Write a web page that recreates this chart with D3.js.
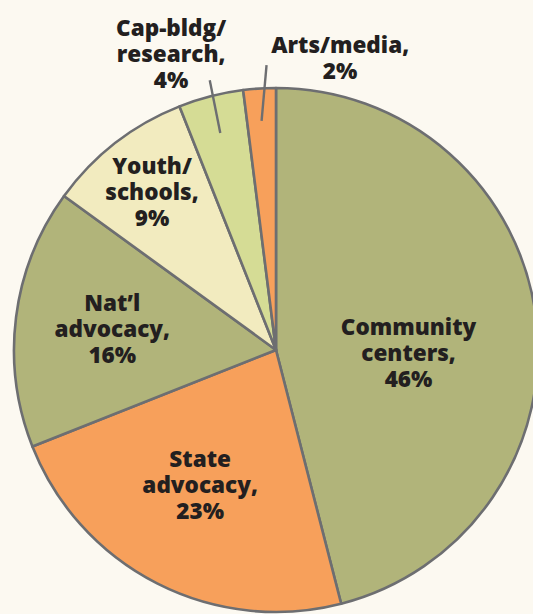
<!DOCTYPE html>
<html><head><meta charset="utf-8">
<script src="https://cdn.jsdelivr.net/npm/d3@7"></script>
<style>html,body{margin:0;padding:0;background:#fcf9f1;overflow:hidden}</style>
</head><body><svg id="c" width="533" height="614"></svg>
<script>
// ---- data ----
const categories = ["Community centers", "State advocacy", "Nat’l advocacy", "Youth/schools", "Cap-bldg/research", "Arts/media"];
const values = [46, 23, 16, 9, 4, 2];
const labelLines = [
  ["Community", "centers,", "46%"],
  ["State", "advocacy,", "23%"],
  ["Nat’l", "advocacy,", "16%"],
  ["Youth/", "schools,", "9%"],
  ["Cap-bldg/", "research,", "4%"],
  ["Arts/media,", "2%"]
];
const colors = ["#b1b47a", "#f7a05b", "#b1b47a", "#f2ebbf", "#d5dc95", "#f7a05b"];

// ---- layout (label placement relative to slice mid-angle) ----
const labelLayout = [
  {f: 0.506, da: 8.6},
  {f: 0.59, da: 2.4},
  {f: 0.63, da: 0},
  {f: 0.767, da: -0.3},
  {f: 1.2, da: -5.1, leader: [0.855, 1.06, 0, 0.6]},
  {f: 1.14, da: 16, leader: [0.876, 1.088, 0, 1.7]}
];

const W = 533, H = 614, cx = 276, cy = 350, R = 262;
const svg = d3.select("#c");
svg.append("rect").attr("width", W).attr("height", H).attr("fill", "#fcf9f1");
const g = svg.append("g").attr("transform", `translate(${cx},${cy})`);

const pie = d3.pie().sort(null).value(d => d.v);
const data = pie(categories.map((c, i) => ({c, v: values[i], i})));
const arc = d3.arc().innerRadius(0).outerRadius(R);

g.selectAll("path.slice").data(data).join("path")
  .attr("class", "slice")
  .attr("d", arc)
  .attr("fill", d => colors[d.data.i])
  .attr("stroke", "#6d6e71")
  .attr("stroke-width", 2.6)
  .attr("stroke-linejoin", "round");

const rad = Math.PI / 180;
function polar(a, r) { return [r * Math.sin(a), -r * Math.cos(a)]; }

data.forEach(d => {
  const L = labelLayout[d.data.i];
  const mid = (d.startAngle + d.endAngle) / 2;
  if (L.leader) {
    const p0 = polar(mid + L.leader[2] * rad, R * L.leader[0]);
    const p1 = polar(mid + L.leader[3] * rad, R * L.leader[1]);
    g.append("line").attr("x1", p0[0]).attr("y1", p0[1]).attr("x2", p1[0]).attr("y2", p1[1])
      .attr("stroke", "#6d6e71").attr("stroke-width", 2.4);
  }
  const p = polar(mid + L.da * rad, R * L.f);
  const lines = labelLines[d.data.i];
  const lh = 26;
  const t = g.append("text")
    .attr("text-anchor", "middle")
    .attr("font-family", "'Open Sans', 'Noto Sans', sans-serif")
    .attr("font-weight", 800)
    .attr("font-size", 22.5)
    .attr("fill", "#231f20");
  lines.forEach((ln, k) => {
    t.append("tspan").attr("x", p[0])
      .attr("y", p[1] + (k - (lines.length - 1) / 2) * lh)
      .attr("dy", "0.35em").text(ln);
  });
});
</script></body></html>
